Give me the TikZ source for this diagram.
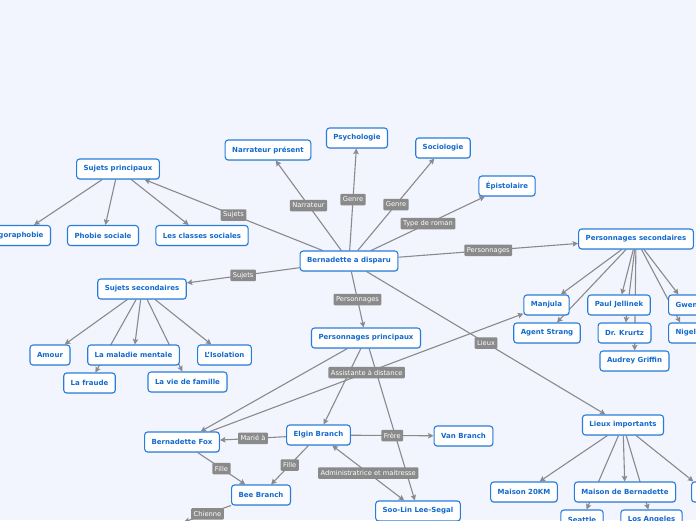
\documentclass[tikz,border=0pt]{standalone}
\usepackage{fontspec}
\setmainfont{DejaVu Sans}
\usetikzlibrary{arrows.meta, shadows}
\pgfdeclarelayer{bg}
\pgfdeclarelayer{links}
\pgfsetlayers{bg,links,main}

\begin{document}
\begin{tikzpicture}[x=1pt, y=-1pt,
  topic/.style={draw=mapblue, fill=white, text=maptext,
    font=\fontsize{7}{8}\selectfont\bfseries, rounded corners=3pt,
    line width=1.1pt, inner xsep=7pt, inner ysep=0pt, minimum height=20pt,
    drop shadow={shadow xshift=0.7pt, shadow yshift=-0.9pt, opacity=0.18}},
  link/.style={draw=linkgrey, line width=1.1pt,
    -{Stealth[length=5.5pt, width=5.5pt, inset=1pt]}},
  tag/.style={fill=linkgrey, text=white, font=\fontsize{6.7}{7.5}\selectfont,
    rounded corners=1pt, inner xsep=2.5pt, inner ysep=0pt, minimum height=11.5pt}]
% colours
  \definecolor{mapbg}{RGB}{242,245,254}
  \definecolor{mapblue}{RGB}{40,125,220}
  \definecolor{maptext}{RGB}{20,105,205}
  \definecolor{linkgrey}{RGB}{138,138,138}

  \useasboundingbox (0,0) rectangle (696,520);
  \begin{pgfonlayer}{bg}
    \fill[mapbg] (0,0) rectangle (696,520);
  \end{pgfonlayer}

  % centre
  \node[topic] (root) at (349,261) {Bernadette a disparu};

  % sujets
  \node[topic] (sujp) at (118,169) {Sujets principaux};
  \node[topic, anchor=east] (agora) at (51,235.5) {Agoraphobie};
  \node[topic] (phob) at (103,235.5) {Phobie sociale};
  \node[topic] (classes) at (202,235.5) {Les classes sociales};
  \node[topic] (ssec) at (142,289) {Sujets secondaires};
  \node[topic] (amour) at (50,355) {Amour};
  \node[topic] (malad) at (133.5,355) {La maladie mentale};
  \node[topic] (isol) at (224.5,355) {L'Isolation};
  \node[topic] (fraude) at (89.5,383) {La fraude};
  \node[topic] (viefam) at (187.5,382) {La vie de famille};

  % genre etc.
  \node[topic] (narr) at (268,150) {Narrateur présent};
  \node[topic] (psy) at (357,138) {Psychologie};
  \node[topic] (socio) at (443,148) {Sociologie};
  \node[topic] (epist) at (507,186) {Épistolaire};

  % personnages secondaires
  \node[topic] (psec) at (636,239) {Personnages secondaires};
  \node[topic] (manjula) at (546.5,305) {Manjula};
  \node[topic] (strang) at (547,333) {Agent Strang};
  \node[topic] (jellinek) at (619,305) {Paul Jellinek};
  \node[topic] (krurtz) at (624.5,333) {Dr. Krurtz};
  \node[topic] (griffin) at (634.5,361) {Audrey Griffin};
  \node[topic, anchor=west] (gwen) at (668,305) {Gwen};
  \node[topic, anchor=west] (nigel) at (668,333) {Nigel};

  % personnages principaux
  \node[topic] (pprin) at (366,338) {Personnages principaux};
  \node[topic] (elgin) at (318.5,435) {Elgin Branch};
  \node[topic] (bfox) at (182,442) {Bernadette Fox};
  \node[topic] (van) at (463.5,436) {Van Branch};
  \node[topic] (bee) at (261,495) {Bee Branch};
  \node[topic] (soolin) at (418,511) {Soo-Lin Lee-Segal};
  \coordinate (chien) at (184,522);

  % lieux
  \node[topic] (lieux) at (623,425) {Lieux importants};
  \node[topic] (m20) at (524,492) {Maison 20KM};
  \node[topic] (mbern) at (625,492) {Maison de Bernadette};
  \node[topic, anchor=west, minimum width=30pt] (lieuxr) at (691,492) {};
  \node[topic] (seattle) at (582,520) {Seattle};
  \node[topic] (la) at (651.5,520) {Los Angeles};

  \begin{pgfonlayer}{links}
    \draw[link] (root) -- node[tag] {Sujets} (sujp);
    \draw[link] (root) -- node[tag] {Narrateur} (narr);
    \draw[link] (root) -- node[tag] {Genre} (psy);
    \draw[link] (root) -- node[tag] {Genre} (socio);
    \draw[link] (root) -- node[tag] {Type de roman} (epist);
    \draw[link] (root) -- node[tag] {Personnages} (psec);
    \draw[link] (root) -- node[tag] {Sujets} (ssec);
    \draw[link] (root) -- node[tag] {Personnages} (pprin);
    \draw[link] (root) -- node[tag] {Lieux} (lieux);

    \draw[link] (sujp) -- (agora);
    \draw[link] (sujp) -- (phob);
    \draw[link] (sujp) -- (classes);

    \draw[link] (ssec) -- (amour);
    \draw[link] (ssec) -- (fraude);
    \draw[link] (ssec) -- (malad);
    \draw[link] (ssec) -- (viefam);
    \draw[link] (ssec) -- (isol);

    \draw[link] (psec) -- (manjula);
    \draw[link] (psec) -- (strang);
    \draw[link] (psec) -- (jellinek);
    \draw[link] (psec) -- (krurtz);
    \draw[link] (psec) -- (griffin);
    \draw[link] (psec) -- (gwen);
    \draw[link] (psec) -- (nigel);

    \draw[link] (pprin) -- (bfox);
    \draw[link] (pprin) -- (elgin);
    \draw[link] (pprin) -- (soolin);
    \draw[link] (bfox) -- node[tag] {Assistante à distance} (manjula);
    \draw[link] (elgin) -- node[tag] {Marié à} (bfox);
    \draw[link] (elgin) -- node[tag] {Frère} (van);
    \draw[link] (bfox) -- node[tag] {Fille} (bee);
    \draw[link] (elgin) -- node[tag] {Fille} (bee);
    \draw[link, {Stealth[length=5.5pt, width=5.5pt, inset=1pt]}-{Stealth[length=5.5pt, width=5.5pt, inset=1pt]}]
      (elgin) -- node[tag] {Administratrice et maitresse} (soolin);
    \draw[link] (bee) -- node[tag] {Chienne} (chien);

    \draw[link] (lieux) -- (m20);
    \draw[link] (lieux) -- (seattle);
    \draw[link] (lieux) -- (mbern);
    \draw[link] (lieux) -- (la);
    \draw[link] (lieux) -- (lieuxr);
  \end{pgfonlayer}
\end{tikzpicture}
\end{document}
